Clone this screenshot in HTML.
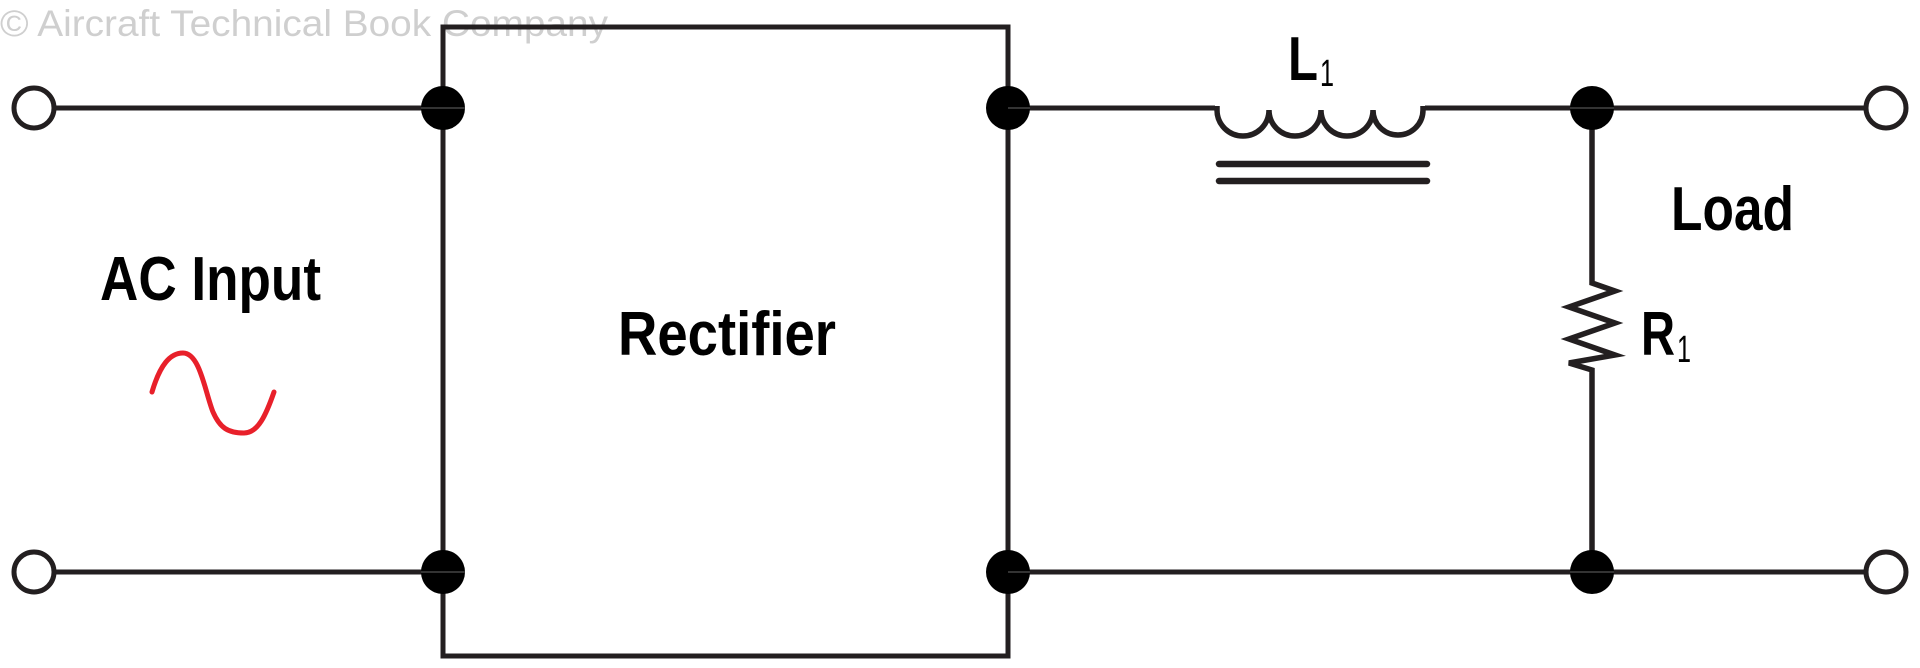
<!DOCTYPE html>
<html><head><meta charset="utf-8"><style>html,body{margin:0;padding:0;background:#fff}svg{display:block}</style></head>
<body>
<svg width="1920" height="668" viewBox="0 0 1920 668" xmlns="http://www.w3.org/2000/svg" font-family="Liberation Sans, sans-serif">
<text x="0" y="36" font-size="37" fill="#cfcfcf" textLength="608" lengthAdjust="spacingAndGlyphs">© Aircraft Technical Book Company</text>
<g stroke="#231f20" stroke-width="5" fill="none">
<rect x="443" y="27" width="565" height="629"/>
<line x1="55" y1="108" x2="443" y2="108"/>
<line x1="55" y1="572" x2="443" y2="572"/>
<line x1="1008" y1="108" x2="1215" y2="108"/>
<line x1="1425" y1="108" x2="1865" y2="108"/>
<line x1="1008" y1="572" x2="1865" y2="572"/>
<path d="M1217 106 V110 A25 25 0 0 0 1269 110 A25 25 0 0 0 1321 110 A25 25 0 0 0 1373 110 A25 25 0 0 0 1423 110 V106" stroke-width="5.5"/>
<line x1="1219" y1="164" x2="1427" y2="164" stroke-width="6.5" stroke-linecap="round"/>
<line x1="1219" y1="181" x2="1427" y2="181" stroke-width="6.5" stroke-linecap="round"/>
<path d="M1592 108 V283 L1615 291 L1569 307 L1615 323 L1569 339 L1615 355 L1569 363 L1592 370 V572" stroke-width="5.5"/>
<circle cx="34" cy="108" r="20" stroke-width="5"/><circle cx="34" cy="572" r="20" stroke-width="5"/>
<circle cx="1886" cy="108" r="20" stroke-width="5"/><circle cx="1886" cy="572" r="20" stroke-width="5"/>
</g>
<g fill="#000">
<circle cx="443" cy="108" r="22"/><circle cx="443" cy="572" r="22"/>
<circle cx="1008" cy="108" r="22"/><circle cx="1008" cy="572" r="22"/>
<circle cx="1592" cy="108" r="22"/><circle cx="1592" cy="572" r="22"/>
</g>
<g stroke="#333" stroke-width="2">
<line x1="421" y1="108" x2="465" y2="108"/><line x1="421" y1="572" x2="465" y2="572"/>
<line x1="1008" y1="108" x2="1030" y2="108"/><line x1="1008" y1="572" x2="1030" y2="572"/>
<line x1="1570" y1="108" x2="1614" y2="108"/><line x1="1570" y1="572" x2="1614" y2="572"/>
</g>
<path d="M152 392 C160 365 170 353 183 353 C200 353 205 392 213 412 C220 428 228 433 244 433 C258 433 266 415 274 392" stroke="#e8202a" stroke-width="5" fill="none" stroke-linecap="round"/>
<g fill="#000" font-size="62" font-weight="bold">
<text x="100" y="300" textLength="221" lengthAdjust="spacingAndGlyphs">AC Input</text>
<text x="618" y="355" textLength="218" lengthAdjust="spacingAndGlyphs">Rectifier</text>
<text x="1671" y="230" textLength="123" lengthAdjust="spacingAndGlyphs">Load</text>
<text x="1288" y="80" textLength="30" lengthAdjust="spacingAndGlyphs">L</text>
<text x="1320" y="86" font-size="38" font-weight="normal" textLength="14" lengthAdjust="spacingAndGlyphs">1</text>
<text x="1641" y="355" textLength="34" lengthAdjust="spacingAndGlyphs">R</text>
<text x="1677" y="362" font-size="38" font-weight="normal" textLength="14" lengthAdjust="spacingAndGlyphs">1</text>
</g>
</svg>
</body></html>
